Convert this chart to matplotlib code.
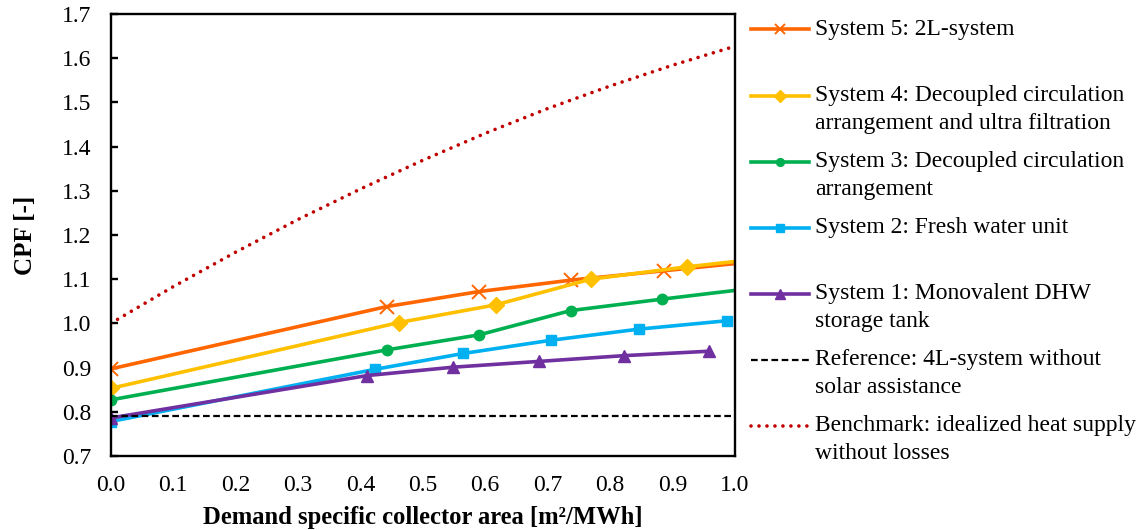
import matplotlib
matplotlib.use("Agg")
import matplotlib.pyplot as plt
from matplotlib.legend_handler import HandlerLine2D
from matplotlib.transforms import Affine2D

plt.rcParams["font.family"] = ["Liberation Serif", "DejaVu Serif"]
plt.rcParams["font.size"] = 17

# System 5: 2L-system
x_s5 = [0.0, 0.442, 0.590, 0.738, 0.886, 1.033]
y_s5 = [0.897, 1.038, 1.072, 1.098, 1.119, 1.140]
# System 4: decoupled circulation + ultra filtration
x_s4 = [0.0, 0.462, 0.617, 0.769, 0.923, 1.078]
y_s4 = [0.853, 1.002, 1.042, 1.100, 1.128, 1.152]
# System 3: decoupled circulation
x_s3 = [0.0, 0.442, 0.590, 0.737, 0.884, 1.032]
y_s3 = [0.827, 0.940, 0.974, 1.029, 1.055, 1.080]
# System 2: fresh water unit
x_s2 = [0.0, 0.423, 0.565, 0.706, 0.846, 0.987]
y_s2 = [0.778, 0.896, 0.932, 0.962, 0.987, 1.006]
# System 1: monovalent DHW storage tank
x_s1 = [0.0, 0.411, 0.549, 0.686, 0.822, 0.958]
y_s1 = [0.786, 0.882, 0.901, 0.914, 0.927, 0.937]
# Reference (4L without solar)
x_ref = [0.0, 1.0]
y_ref = [0.79, 0.79]
# Benchmark (idealized, no losses)
x_bm = [0.0, 0.1, 0.2, 0.3, 0.4, 0.5, 0.6, 0.7, 0.8, 0.9, 1.0]
y_bm = [1.000, 1.083, 1.161, 1.235, 1.304, 1.369, 1.430, 1.486, 1.537, 1.584, 1.627]

labels = [
    "System 5: 2L-system\n",
    "System 4: Decoupled circulation\narrangement and ultra filtration",
    "System 3: Decoupled circulation\narrangement",
    "System 2: Fresh water unit\n",
    "System 1: Monovalent DHW\nstorage tank",
    "Reference: 4L-system without\nsolar assistance",
    "Benchmark: idealized heat supply\nwithout losses",
]


class FirstLineHandler(HandlerLine2D):
    # put the legend symbol next to the first text line instead of the middle
    def create_artists(self, legend, orig_handle, xdescent, ydescent,
                       width, height, fontsize, trans):
        shift = Affine2D().translate(0, 9.7)
        return super().create_artists(legend, orig_handle, xdescent, ydescent,
                                      width, height, fontsize, shift + trans)


fig = plt.figure(figsize=(11.41, 5.30), dpi=100)
ax = fig.add_axes([0.097, 0.1396, 0.547, 0.834])

lw = 2.6
h5, = ax.plot(x_s5, y_s5, color="#FF6600", lw=lw, marker="x", ms=10, mew=1.4)
h4, = ax.plot(x_s4, y_s4, color="#FFC000", lw=lw, marker="D", ms=8)
h3, = ax.plot(x_s3, y_s3, color="#00B050", lw=lw, marker="o", ms=7.5)
h2, = ax.plot(x_s2, y_s2, color="#00B0F0", lw=lw, marker="s", ms=7)
h1, = ax.plot(x_s1, y_s1, color="#7030A0", lw=lw, marker="^", ms=9)
href, = ax.plot(x_ref, y_ref, color="black", lw=1.6, linestyle=(0, (3.0, 1.6)))
hbm, = ax.plot(x_bm, y_bm, color="#C00000", lw=2.6, linestyle=(0, (0.01, 2.2)),
               dash_capstyle="round")

ax.set_xlim(0, 1.0)
ax.set_ylim(0.7, 1.7)
ax.set_xticks([i / 10 for i in range(11)])
ax.set_yticks([0.7 + i / 10 for i in range(11)])
ax.xaxis.set_major_formatter(matplotlib.ticker.FormatStrFormatter("%.1f"))
ax.yaxis.set_major_formatter(matplotlib.ticker.FormatStrFormatter("%.1f"))
ax.tick_params(axis="x", length=0, pad=14)
ax.tick_params(axis="y", direction="in", length=5, width=1.7, pad=14)
for sp in ax.spines.values():
    sp.set_linewidth(1.7)

ax.set_xlabel("Demand specific collector area [m²/MWh]", fontweight="bold",
              fontsize=17.7, labelpad=7)
ax.set_ylabel("CPF [-]", fontweight="bold", fontsize=18, labelpad=18)

handles = [h5, h4, h3, h2, h1, href, hbm]
leg = fig.legend(handles, labels, loc="upper left",
                 bbox_to_anchor=(751 / 1141, 0.9645),
                 frameon=False, borderpad=0, borderaxespad=0, handlelength=2.45,
                 handletextpad=0.25, labelspacing=0.735, markerscale=0.75,
                 handler_map={matplotlib.lines.Line2D: FirstLineHandler(numpoints=1)})
for t in leg.get_texts():
    t.set_linespacing(1.42)

plt.savefig("out.png", dpi=100)
